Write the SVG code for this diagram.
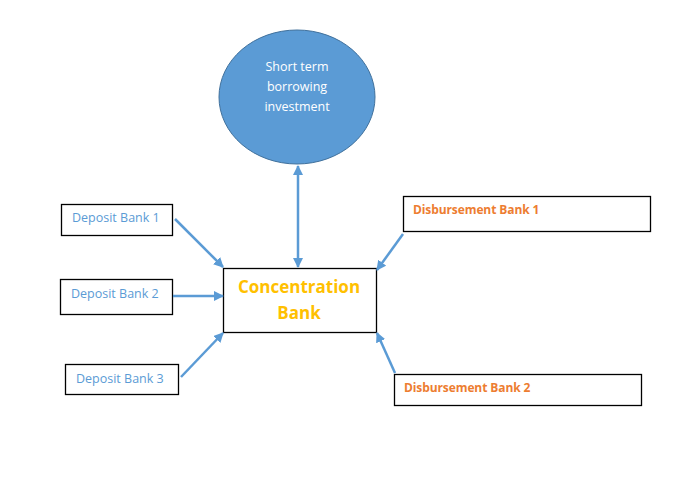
<svg xmlns="http://www.w3.org/2000/svg" width="690" height="483" viewBox="0 0 690 483">
<style>
.box{fill:#fff;stroke:#000;stroke-width:1.3}
.dep{font-family:"Open Sans","Liberation Sans",sans-serif;font-size:12.5px;fill:#5b9bd5}
.dis{font-family:"Open Sans","Liberation Sans",sans-serif;font-size:12px;font-weight:bold;fill:#ed7d31;letter-spacing:-0.1px}
.conn{stroke:#5b9bd5;stroke-width:2.5;fill:none}
</style>
<defs>
<marker id="ah" viewBox="0 0 10 10" refX="9" refY="5" markerWidth="4" markerHeight="4" orient="auto-start-reverse" markerUnits="strokeWidth">
<path d="M0,0 L10,5 L0,10 z" fill="#5b9bd5"/>
</marker>
</defs>
<rect width="690" height="483" fill="#fff"/>
<g id="circle">
<ellipse cx="297" cy="97" rx="78" ry="67" fill="#5b9bd5" stroke="#41719c" stroke-width="1"/>
<text x="297" y="71" text-anchor="middle" font-family="Open Sans,Liberation Sans,sans-serif" font-size="12.5" fill="#fff">Short term</text>
<text x="297" y="91" text-anchor="middle" font-family="Open Sans,Liberation Sans,sans-serif" font-size="12.5" fill="#fff">borrowing</text>
<text x="297" y="111" text-anchor="middle" font-family="Open Sans,Liberation Sans,sans-serif" font-size="12.5" fill="#fff">investment</text>
</g>
<g id="dep1"><rect class="box" x="61.5" y="204.5" width="111" height="31"/><text class="dep" x="72" y="222">Deposit Bank 1</text></g>
<g id="dep2"><rect class="box" x="60.5" y="279.5" width="112" height="35"/><text class="dep" x="71" y="298">Deposit Bank 2</text></g>
<g id="dep3"><rect class="box" x="65.5" y="364.5" width="113" height="30"/><text class="dep" x="76" y="383">Deposit Bank 3</text></g>
<g id="conc"><rect class="box" x="223.5" y="268.5" width="153" height="64"/>
<text x="299" y="293" text-anchor="middle" font-family="Open Sans,Liberation Sans,sans-serif" font-size="17" font-weight="bold" fill="#ffc000">Concentration</text>
<text x="299" y="319" text-anchor="middle" font-family="Open Sans,Liberation Sans,sans-serif" font-size="17" font-weight="bold" fill="#ffc000">Bank</text></g>
<g id="dis1"><rect class="box" x="403.5" y="196.5" width="247" height="35"/><text class="dis" x="413" y="214">Disbursement Bank 1</text></g>
<g id="dis2"><rect class="box" x="394.5" y="374.5" width="247" height="31"/><text class="dis" x="404" y="392">Disbursement Bank 2</text></g>
<g id="connectors">
<line class="conn" x1="175" y1="219" x2="223" y2="267" marker-end="url(#ah)"/>
<line class="conn" x1="173" y1="296" x2="223" y2="296" marker-end="url(#ah)"/>
<line class="conn" x1="181" y1="377" x2="223" y2="333" marker-end="url(#ah)"/>
<line class="conn" x1="403" y1="234" x2="377" y2="270" marker-end="url(#ah)"/>
<line class="conn" x1="395" y1="373" x2="377" y2="333" marker-end="url(#ah)"/>
<line class="conn" x1="298" y1="166" x2="298" y2="267" marker-start="url(#ah)" marker-end="url(#ah)"/>
</g>
</svg>
